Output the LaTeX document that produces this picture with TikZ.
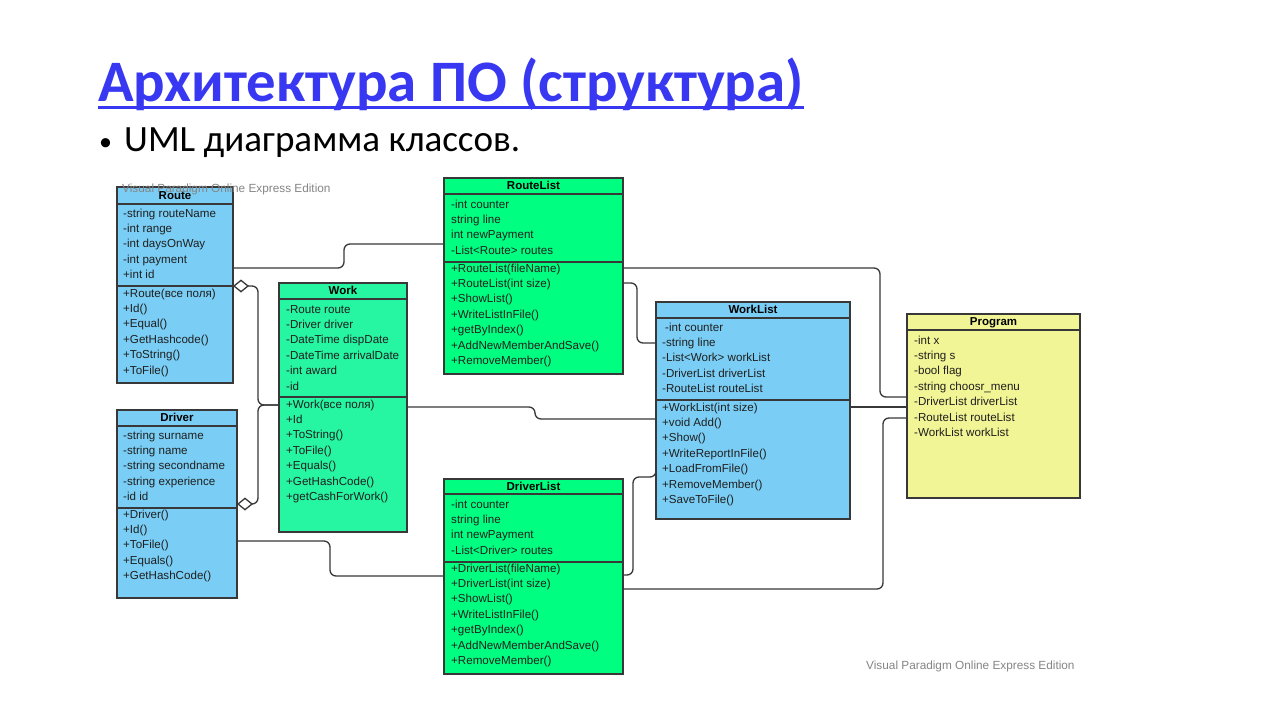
\documentclass[tikz,border=0pt]{standalone}
\usepackage{graphicx}
\usepackage{fontspec}
\setmainfont{Liberation Sans}
\newfontfamily\slidefont{Carlito}
\usetikzlibrary{arrows.meta}

\definecolor{clsblue}{HTML}{7ACEF5}
\definecolor{clsgreen}{HTML}{00FF80}
\definecolor{worktone}{HTML}{26F5A2}
\definecolor{progyellow}{HTML}{F2F595}
\definecolor{edgegray}{HTML}{383838}
\definecolor{linkblue}{HTML}{3838F2}
\definecolor{wmgray}{HTML}{858585}

% one class box: name, fill, x1, y1, x2, y2, header rule y, title
\newcommand\classbox[8]{%
  \node[classrect, fill=#2, minimum width={#5-#3}, minimum height={#6-#4}] (#1) at (#3,#4) {};
  \draw[rule] (#3,#7) -- (#5,#7);
  \node[hdr] (#1-title) at ({(#3+#5)/2},{(#4+#7)/2+0.5}) {#8};
}
% a column of member rows: name prefix, x, first y, list
\newcommand\memberrows[4]{%
  \foreach \t [count=\i] in {#4} {\node[row] (#1\i) at (#2,{#3+15.45*(\i-1)}) {\t};}
}

\begin{document}
\begin{tikzpicture}[x=1pt,y=-1pt,
  classrect/.style={draw=edgegray, line width=1.3pt, anchor=north west, inner sep=0pt, outer sep=0pt},
  rule/.style={draw=edgegray, line width=1.3pt},
  hdr/.style={font=\bfseries\fontsize{11.5}{13}\selectfont, inner sep=0pt, text height=8.5pt, text depth=2.5pt},
  row/.style={font=\fontsize{11.6}{13}\selectfont, anchor=west, inner sep=0pt, text height=8.5pt, text depth=2.5pt, text=black!88},
  wire/.style={draw=edgegray, line width=1.3pt, rounded corners=6pt},
  agg/.style={wire, {Diamond[open, fill=white, length=16pt, width=13pt, line width=1.3pt]}-},
  wm/.style={font=\fontsize{11.8}{13}\selectfont, text=wmgray, inner sep=0pt, anchor=west}
]
\useasboundingbox[fill=white] (0,0) rectangle (1280,720);

% heading and bullet line
\node[anchor=base west, inner sep=0pt, text=linkblue] (title) at (98,101)
  {\resizebox{705pt}{!}{\slidefont\bfseries Архитектура ПО (структура)}};
\draw[linkblue, line width=3pt] ([yshift=-6.5pt]title.base west) -- ([yshift=-6.5pt]title.base east);
\node[anchor=base west, inner sep=0pt] (bullet) at (99,150) {\slidefont\fontsize{26}{30}\selectfont •};
\node[anchor=base west, inner sep=0pt] (subtitle) at (124,151)
  {\resizebox{396pt}{!}{\slidefont UML диаграмма классов.}};

% classes
\classbox{Route}{clsblue}{117}{187}{233}{383}{204}{Route}
\draw[rule] (117,286) -- (233,286);
\memberrows{Route-a}{123}{214}{-string routeName,-int range,-int daysOnWay,-int payment,+int id}
\memberrows{Route-m}{123}{294}{+Route(все поля),+Id(),+Equal(),+GetHashcode(),+ToString(),+ToFile()}

\classbox{Driver}{clsblue}{117}{410}{237}{598}{426}{Driver}
\draw[rule] (117,508) -- (237,508);
\memberrows{Driver-a}{123}{436}{-string surname,-string name,-string secondname,-string experience,-id id}
\memberrows{Driver-m}{123}{515}{+Driver(),+Id(),+ToFile(),+Equals(),+GetHashCode()}

\classbox{Work}{worktone}{279}{283}{407}{532}{299}{Work}
\draw[rule] (279,397) -- (407,397);
\memberrows{Work-a}{286}{310}{-Route route,-Driver driver,-DateTime dispDate,-DateTime arrivalDate,-int award,-id}
\memberrows{Work-m}{286}{405}{+Work(все поля),+Id,+ToString(),+ToFile(),+Equals(),+GetHashCode(),+getCashForWork()}

\classbox{RouteList}{clsgreen}{444}{178}{623}{374}{194}{RouteList}
\draw[rule] (444,262) -- (623,262);
\memberrows{RouteList-a}{451}{205}{-int counter,string line,int newPayment,-List<Route> routes}
\memberrows{RouteList-m}{451}{269}{+RouteList(fileName),+RouteList(int size),+ShowList(),+WriteListInFile(),+getByIndex(),+AddNewMemberAndSave(),+RemoveMember()}

\classbox{DriverList}{clsgreen}{444}{479}{623}{674}{494}{DriverList}
\draw[rule] (444,562) -- (623,562);
\memberrows{DriverList-a}{451}{505}{-int counter,string line,int newPayment,-List<Driver> routes}
\memberrows{DriverList-m}{451}{569}{+DriverList(fileName),+DriverList(int size),+ShowList(),+WriteListInFile(),+getByIndex(),+AddNewMemberAndSave(),+RemoveMember()}

\classbox{WorkList}{clsblue}{656}{302}{850}{519}{318}{WorkList}
\draw[rule] (656,400) -- (850,400);
\memberrows{WorkList-a}{662}{328}{\hspace{3pt}-int counter,-string line,-List<Work> workList,-DriverList driverList,-RouteList routeList}
\memberrows{WorkList-m}{662}{408}{+WorkList(int size),+void Add(),+Show(),+WriteReportInFile(),+LoadFromFile(),+RemoveMember(),+SaveToFile()}

\classbox{Program}{progyellow}{907}{314}{1080}{498}{330}{Program}
\memberrows{Program-a}{914}{341}{-int x,-string s,-bool flag,-string choosr\_menu,-DriverList driverList,-RouteList routeList,-WorkList workList}

% tool watermarks
\node[wm] (wmark-top) at (122,189) {Visual Paradigm Online Express Edition};
\node[wm] (wmark-bottom) at (866,666) {Visual Paradigm Online Express Edition};

% associations
\draw[wire] ([yshift=-81pt]Route.north east) -- ++(111,0) |- ([yshift=-66pt]RouteList.north west);
\draw[agg] ([yshift=-99pt]Route.north east) -- ++(25,0) |- ([yshift=-122pt]Work.north west);
\draw[agg] ([yshift=-94pt]Driver.north east) -- ++(21,0) |- ([yshift=-122pt]Work.north west);
\draw[wire] ([yshift=-124pt]Work.north east) -- ++(128,0) |- ([yshift=-117pt]WorkList.north west);
\draw[wire] ([yshift=-131pt]Driver.north east) -- ++(93,0) |- ([yshift=-97pt]DriverList.north west);
\draw[wire] ([yshift=-105pt]RouteList.north east) -- ++(14,0) |- ([yshift=-41pt]WorkList.north west);
\draw[wire] ([yshift=-90pt]RouteList.north east) -- ++(257,0) |- ([yshift=-83pt]Program.north west);
\draw[wire] ([yshift=-105pt]WorkList.north east) -- ([yshift=-93pt]Program.north west);
\draw[wire] ([yshift=-110pt]DriverList.north east) -- ++(260,0) |- ([yshift=-104pt]Program.north west);
\draw[wire] ([yshift=-96pt]DriverList.north east) -- ++(10,0) |- ([yshift=-175pt]WorkList.north west)
  -- ([yshift=-163pt]WorkList.north west);
\end{tikzpicture}
\end{document}
